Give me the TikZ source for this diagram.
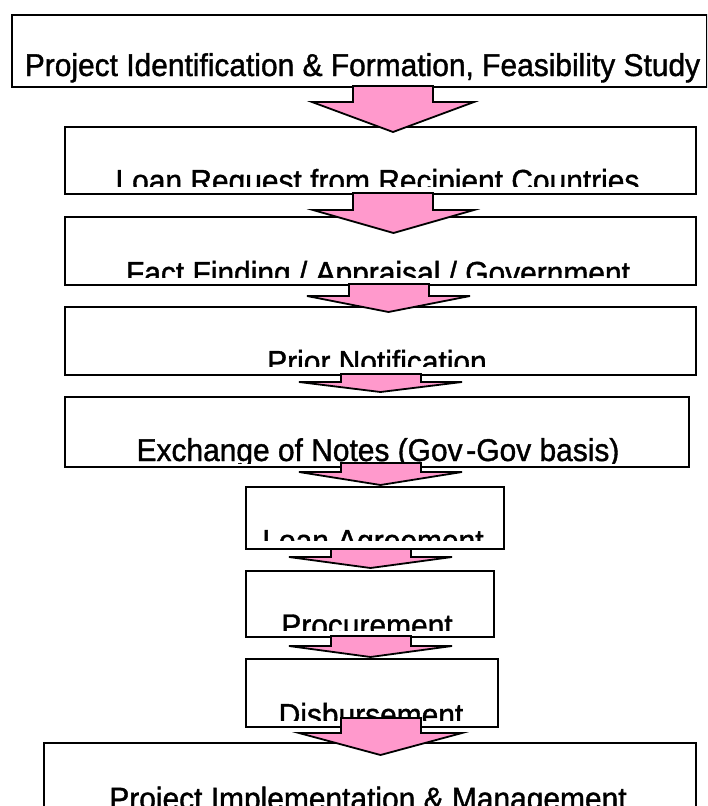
\documentclass[tikz,border=0pt]{standalone}
\usepackage{fontspec}
\setmainfont{Liberation Sans}
\newfontfamily\boxfont[FakeStretch=0.95,FakeBold=1.2]{Liberation Sans}
\definecolor{arrowpink}{RGB}{255,153,204}
\tikzset{
  box/.style={draw=black, line width=2pt, fill=white, inner sep=0pt, anchor=north west},
  lbl/.style={font=\boxfont\fontsize{31.5}{36}\selectfont, anchor=base, inner sep=0pt},
  blockarrow/.style={draw=black, line width=1.8pt, fill=arrowpink, line join=miter},
}
% shaft left, shaft right, shaft top, head base y, head left, head right, tip y
\newcommand{\blkarrow}[7]{%
  \draw[blockarrow] (#1,#3) -- (#2,#3) -- (#2,#4) -- (#6,#4) -- ({(#5+#6)/2},#7) -- (#5,#4) -- (#1,#4) -- cycle;}
\begin{document}
\begin{tikzpicture}[x=1pt,y=-1pt]
\useasboundingbox (0,0) rectangle (707,806);
\clip (0,0) rectangle (707,806);

% boxes
\node[box, minimum width=694.5pt, minimum height=72pt] (b1) at (11,14) {};
\node[lbl] (t1) at (362.5,76) {Project Identification \& Formation, Feasibility Study};

\node[box, minimum width=631pt, minimum height=67pt] (b2) at (64,126) {};
\begin{scope}
  \clip (65,127) rectangle (694,186.5);
  \node[lbl] (t2) at (377.5,191.7) {Loan Request from Recipient Countries};
\end{scope}

\node[box, minimum width=631pt, minimum height=68pt] (b3) at (64,216) {};
\begin{scope}
  \clip (65,217) rectangle (694,277.5);
  \node[lbl] (t3) at (378,283.7) {Fact Finding / Appraisal / Government};
\end{scope}

\node[box, minimum width=631pt, minimum height=68pt] (b4) at (64,306) {};
\begin{scope}
  \clip (65,307) rectangle (694,366);
  \node[lbl] (t4) at (377,372.7) {Prior Notification};
\end{scope}

\node[box, minimum width=624pt, minimum height=70pt] (b5) at (64,396) {};
\begin{scope}
  \clip (65,397) rectangle (687,463.5);
  \node[lbl] (t5) at (378,461) {Exchange of Notes (Gov\hspace{0.12em}-Gov basis)};
\end{scope}

\node[box, minimum width=258pt, minimum height=62pt] (b6) at (245,486) {};
\begin{scope}
  \clip (246,487) rectangle (502,540.5);
  \node[lbl] (t6) at (373,551.7) {Loan Agreement};
\end{scope}

\node[box, minimum width=248pt, minimum height=66pt] (b7) at (245,570) {};
\begin{scope}
  \clip (246,571) rectangle (492,630);
  \node[lbl] (t7) at (367,636.2) {Procurement};
\end{scope}

\node[box, minimum width=252pt, minimum height=68pt] (b8) at (245,658) {};
\begin{scope}
  \clip (246,659) rectangle (496,720);
  \node[lbl] (t8) at (371,725.7) {Disbursement};
\end{scope}

\node[box, minimum width=652pt, minimum height=100pt] (b9) at (43,742) {};
\node[lbl] (t9) at (368,809.5) {Project Implementation \& Management};

% block arrows
\blkarrow{353}{433}{86}{102}{312}{474}{132}
\blkarrow{353}{433}{193}{210}{313}{474}{233}
\blkarrow{349}{429}{284}{296}{307}{470}{312}
\blkarrow{341}{421}{374}{382}{299}{462}{392}
\blkarrow{341}{421}{463}{472}{299}{462}{485}
\blkarrow{331}{411}{549}{557}{289}{452}{568}
\blkarrow{331}{411}{636}{646}{289}{452}{657}
\blkarrow{341}{421}{718}{733}{299}{462}{755}
\end{tikzpicture}
\end{document}
